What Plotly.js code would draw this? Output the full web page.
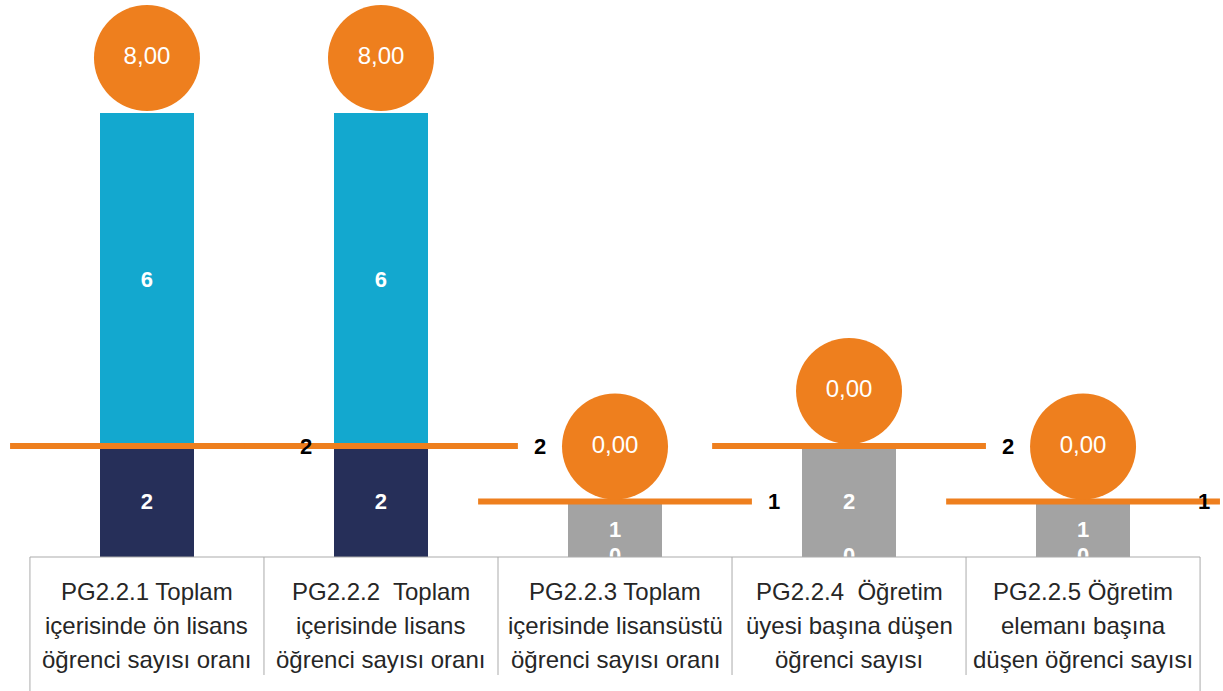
<!DOCTYPE html>
<html>
<head>
<meta charset="utf-8">
<script src="https://cdn.plot.ly/plotly-3.0.1.min.js"></script>
<style>html,body{margin:0;padding:0;background:#fff;}#chart{width:1223px;height:691px;}</style>
</head>
<body>
<div id="chart"></div>
<script>
// ---- data ----
var categories = [
  "PG2.2.1 Toplam<br>içerisinde ön lisans<br>öğrenci sayısı oranı",
  "PG2.2.2  Toplam<br>içerisinde lisans<br>öğrenci sayısı oranı",
  "PG2.2.3 Toplam<br>içerisinde lisansüstü<br>öğrenci sayısı oranı",
  "PG2.2.4  Öğretim<br>üyesi başına düşen<br>öğrenci sayısı",
  "PG2.2.5 Öğretim<br>elemanı başına<br>düşen öğrenci sayısı"
];
var seriesBase   = [2, 2, null, null, null];      // navy
var seriesTop    = [6, 6, null, null, null];      // cyan
var seriesGrey   = [null, null, 1, 2, 1];         // grey
var zeroSeries   = [null, null, 0, 0, 0];         // zero series ("0" labels)
var targets      = [2, 2, 1, 2, 1];               // orange target lines
var circleLabels = ["8,00", "8,00", "0,00", "0,00", "0,00"];

// ---- layout constants ----
var W = 1223, H = 691, marginB = 134;
var plotH = H - marginB;
var pxPerUnit = 55.5;
var yMax = plotH / pxPerUnit;
var xMin = -0.628, xMax = 4.598;
var circleDiam = 106;
var lineHalf = 0.585;
var labelOff = 0.68;

var idx = categories.map(function(_, i){ return i; });
var ORANGE = "#EE7F1E", NAVY = "#262F59", CYAN = "#13A8CF", GREY = "#A3A3A3";
var FONT = "Liberation Sans, Arial, sans-serif";

function lbl(arr){ return arr.map(function(v){ return v === null ? "" : String(v); }); }

var traces = [];
[[seriesBase, NAVY], [seriesTop, CYAN], [seriesGrey, GREY]].forEach(function(s){
  traces.push({type:"bar", x:idx, y:s[0], width:0.4, marker:{color:s[1]},
    text:lbl(s[0]), textposition:"inside", insidetextanchor:"middle", constraintext:"none",
    textfont:{color:"#fff", size:22, family:FONT, weight:"bold"}, hoverinfo:"skip"});
});

// target lines
var lx = [], ly = [];
idx.forEach(function(i){
  lx.push(i - lineHalf, i + lineHalf, null);
  ly.push(targets[i], targets[i], null);
});
traces.push({type:"scatter", mode:"lines", x:lx, y:ly, line:{color:ORANGE, width:6}, hoverinfo:"skip"});

// zero-series labels (clipped at the baseline)
traces.push({type:"scatter", mode:"text", x:idx, y:zeroSeries, text:lbl(zeroSeries),
  textposition:"middle center", cliponaxis:true,
  textfont:{color:"#fff", size:22, family:FONT, weight:"bold"}, hoverinfo:"skip"});

// circles sitting on top of bar / target
var circleY = idx.map(function(i){
  var tot = (seriesBase[i]||0) + (seriesTop[i]||0) + (seriesGrey[i]||0);
  return Math.max(tot, targets[i]) + (circleDiam/2 + 2)/pxPerUnit;
});
traces.push({type:"scatter", mode:"markers+text", x:idx, y:circleY, text:circleLabels,
  textposition:"middle center", cliponaxis:false,
  marker:{size:circleDiam, color:ORANGE, line:{width:0}},
  textfont:{color:"#fff", size:24, family:FONT}, hoverinfo:"skip"});

// target value labels
var annotations = idx.map(function(i){
  return {x:Math.min(i + labelOff, 4.515), y:targets[i], xref:"x", yref:"y",
    text:String(targets[i]), showarrow:false, xanchor:"center", yanchor:"middle",
    font:{color:"#000", size:22, family:FONT, weight:"bold"}};
});

// category labels, one annotation per line
idx.forEach(function(i){
  categories[i].split("<br>").forEach(function(line, k){
    annotations.push({x:i, y:0, xref:"x", yref:"paper", text:line, showarrow:false,
      xanchor:"center", yanchor:"middle", yshift:-(34 + 34*k),
      font:{color:"#262626", size:24, family:FONT}});
  });
});

// table frame
var shapes = [];
var lineCol = "#ABABAB";
shapes.push({type:"line", xref:"x", yref:"paper", x0:-0.5, x1:4.5, y0:0, y1:0, line:{color:lineCol, width:1}, layer:"above"});
[-0.5, 4.5].forEach(function(x){
  shapes.push({type:"line", xref:"x", yref:"paper", x0:x, x1:x, y0:0, y1:-marginB/plotH, line:{color:lineCol, width:1}, layer:"above"});
});
[0.5, 1.5, 2.5, 3.5].forEach(function(x){
  shapes.push({type:"line", xref:"x", yref:"paper", x0:x, x1:x, y0:0, y1:-118/plotH, line:{color:lineCol, width:1}, layer:"above"});
});

var layout = {
  width:W, height:H, margin:{l:0, r:0, t:0, b:marginB, pad:0},
  paper_bgcolor:"#fff", plot_bgcolor:"#fff",
  barmode:"stack", showlegend:false,
  xaxis:{range:[xMin, xMax], tickvals:idx, showticklabels:false, showgrid:false, zeroline:false,
    showline:false, ticks:"", fixedrange:true},
  yaxis:{range:[0, yMax], showgrid:false, zeroline:false, showline:false, showticklabels:false, fixedrange:true},
  shapes:shapes, annotations:annotations,
  font:{family:FONT}
};

Plotly.newPlot("chart", traces, layout, {displayModeBar:false, staticPlot:true});
</script>
</body>
</html>
